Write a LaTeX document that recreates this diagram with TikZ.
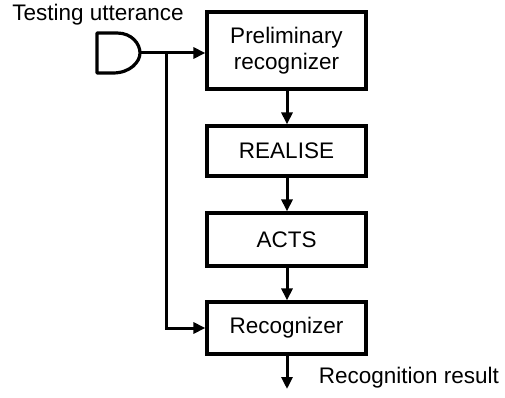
\documentclass[tikz,border=0pt]{standalone}
\usepackage{fontspec}
\setmainfont{Liberation Sans}
\usetikzlibrary{arrows.meta}
\begin{document}
\begin{tikzpicture}[x=1pt,y=-1pt,
  font=\fontsize{22.5}{26}\selectfont,
  line width=3.2pt,
  stagebox/.style={draw, rectangle, minimum width=159pt, align=center, inner sep=0pt, line width=3.2pt},
  flow/.style={-{Triangle[length=12pt,width=11pt]}, line width=3pt},
]
\useasboundingbox (0,0) rectangle (505,398);
% microphone
\draw[line width=3.2pt, line join=round] (117,33) -- (97,33) -- (97,73) -- (113,73)
  .. controls (130,73) and (140,62) .. (140,53)
  .. controls (140,44) and (132,33) .. (117,33);
\coordinate (mic) at (140,53);
\node[anchor=base] (title) at (98,21) {Testing utterance};
% boxes
\node[stagebox, minimum height=77pt] (b1) at (286.5,50.5) {Preliminary\\recognizer};
\node[stagebox, minimum height=50pt] (b2) at (286.5,151) {REALISE};
\node[stagebox, minimum height=53pt] (b3) at (286.5,239.5) {ACTS};
\node[stagebox, minimum height=52pt] (b4) at (286.5,328) {Recognizer};
\coordinate (branch) at (166,53);
\coordinate (out) at (287,389);
\node[anchor=base west] (res) at (314,383) {Recognition result};
% connectors
\draw[flow] (mic) -- (mic -| b1.west);
\draw[flow, line join=miter] (branch) |- (b4.west);
\draw[flow] (b1.south -| 287,0) -- (b2.north -| 287,0);
\draw[flow] (b2.south -| 287,0) -- (b3.north -| 287,0);
\draw[flow] (b3.south -| 287,0) -- (b4.north -| 287,0);
\draw[flow] (b4.south -| 287,0) -- (out);
\end{tikzpicture}
\end{document}
